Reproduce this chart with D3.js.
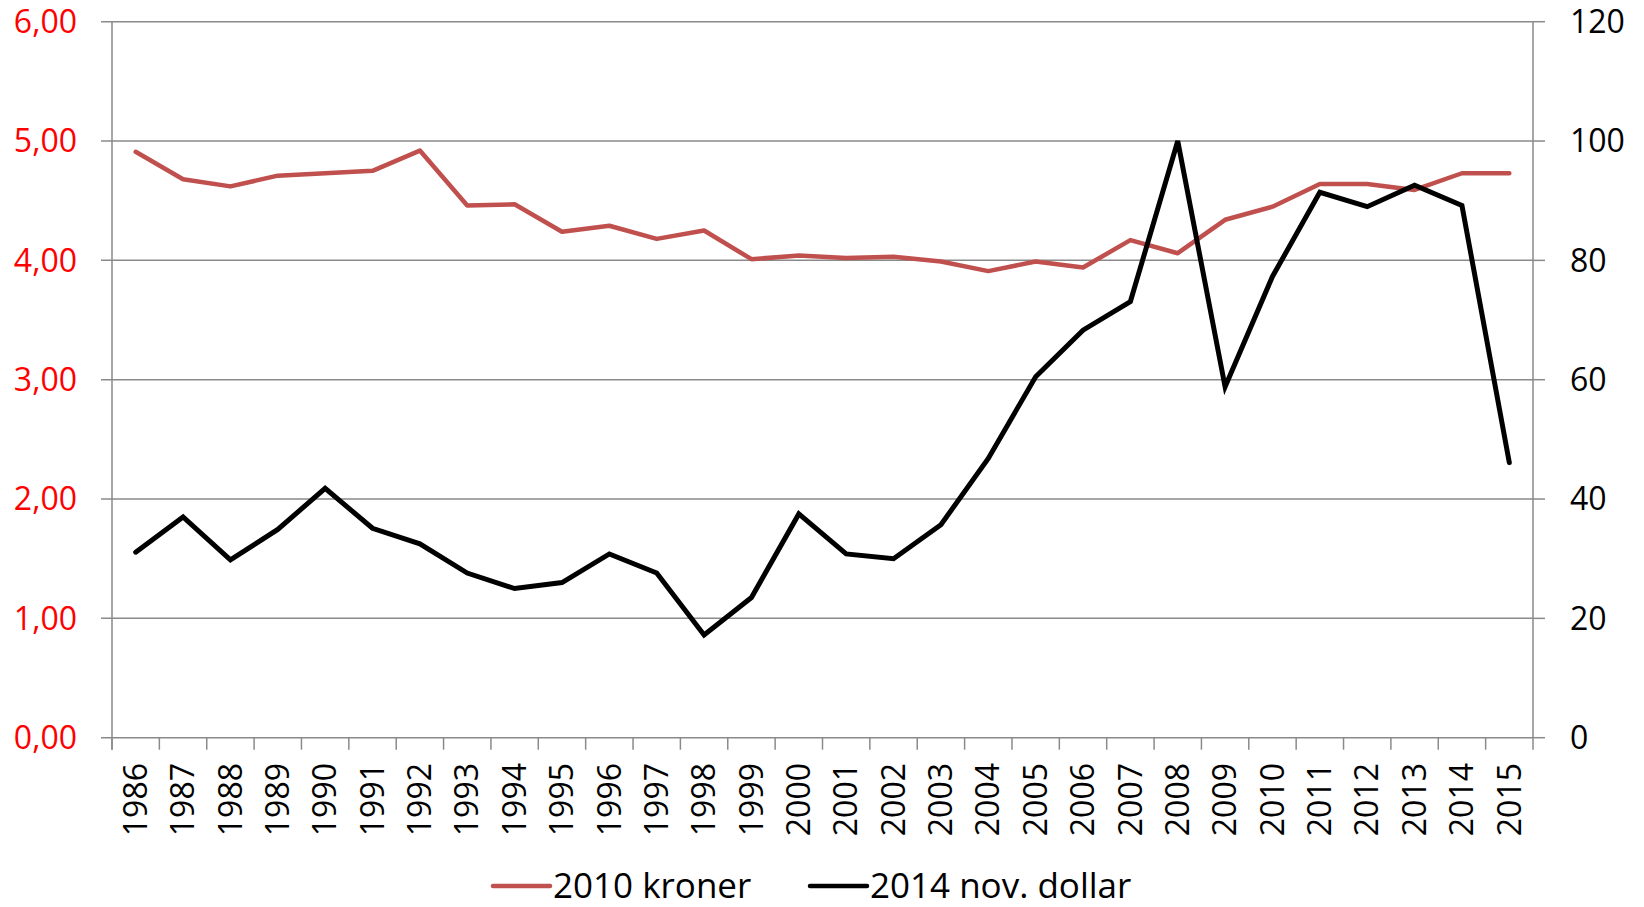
<!DOCTYPE html>
<html lang="no">
<head>
<meta charset="UTF-8">
<title>Kroner og dollar</title>
<script src="https://d3js.org/d3.v7.min.js"></script>
<style>
  body { margin: 0; background: #fff; }
  text { font-family: "Open Sans", "Liberation Sans", sans-serif; }
</style>
</head>
<body>
<script>
var years = ["1986","1987","1988","1989","1990","1991","1992","1993","1994","1995",
  "1996","1997","1998","1999","2000","2001","2002","2003","2004","2005",
  "2006","2007","2008","2009","2010","2011","2012","2013","2014","2015"];

// 2010 kroner (left axis)
var kroner = [4.91, 4.68, 4.62, 4.71, 4.73, 4.75, 4.92, 4.46, 4.47, 4.24,
  4.29, 4.18, 4.25, 4.01, 4.04, 4.02, 4.03, 3.99, 3.91, 3.99,
  3.94, 4.17, 4.06, 4.34, 4.45, 4.64, 4.64, 4.59, 4.73, 4.73];

// 2014 nov. dollar (right axis)
var dollar = [31.1, 37.0, 29.8, 34.9, 41.8, 35.1, 32.5, 27.6, 25.0, 26.0,
  30.8, 27.6, 17.2, 23.5, 37.5, 30.8, 30.0, 35.7, 46.8, 60.5,
  68.3, 73.1, 100.0, 58.8, 77.3, 91.4, 89.0, 92.6, 89.2, 46.1];

var leftTicks = [0, 1, 2, 3, 4, 5, 6];
var rightTicks = [0, 20, 40, 60, 80, 100, 120];
var seriesNames = ["2010 kroner", "2014 nov. dollar"];

var W = 1644, H = 907;
var plotL = 112, plotR = 1533, plotT = 21.7, plotB = 737.7;
var gridColor = "#8a8a8a";

var svg = d3.select("body").append("svg")
  .attr("width", W)
  .attr("height", H);

var x = d3.scaleBand().domain(years).range([plotL, plotR]).padding(0);
var y = d3.scaleLinear().domain([0, 6]).range([plotB, plotT]);
var y2 = d3.scaleLinear().domain([0, 120]).range([plotB, plotT]);

var comma = d3.formatLocale({decimal: ",", thousands: " ", grouping: [3], currency: ["", " kr"]});

// gridlines
svg.append("g")
  .selectAll("line")
  .data(leftTicks)
  .enter().append("line")
  .attr("x1", plotL - 11)
  .attr("x2", plotR)
  .attr("y1", function(d) { return y(d); })
  .attr("y2", function(d) { return y(d); })
  .attr("stroke", gridColor)
  .attr("stroke-width", 1.5);

// right ticks
svg.append("g")
  .selectAll("line")
  .data(rightTicks)
  .enter().append("line")
  .attr("x1", plotR)
  .attr("x2", plotR + 12)
  .attr("y1", function(d) { return y2(d); })
  .attr("y2", function(d) { return y2(d); })
  .attr("stroke", gridColor)
  .attr("stroke-width", 1.5);

// vertical axis lines
svg.append("line")
  .attr("x1", plotL).attr("x2", plotL)
  .attr("y1", plotT).attr("y2", plotB + 12)
  .attr("stroke", gridColor).attr("stroke-width", 1.5);
svg.append("line")
  .attr("x1", plotR).attr("x2", plotR)
  .attr("y1", plotT).attr("y2", plotB + 12)
  .attr("stroke", gridColor).attr("stroke-width", 1.5);

// x category ticks (between categories)
var bounds = years.map(function(d) { return x(d); });
svg.append("g")
  .selectAll("line")
  .data(bounds)
  .enter().append("line")
  .attr("x1", function(d) { return d; })
  .attr("x2", function(d) { return d; })
  .attr("y1", plotB)
  .attr("y2", plotB + 12)
  .attr("stroke", gridColor)
  .attr("stroke-width", 1.5);

// left labels
svg.append("g")
  .selectAll("text")
  .data(leftTicks)
  .enter().append("text")
  .attr("x", 77)
  .attr("y", function(d) { return y(d); })
  .attr("dy", "0.35em")
  .attr("text-anchor", "end")
  .attr("fill", "#ff0000")
  .style("font-size", "32px")
  .text(function(d) { return comma.format(".2f")(d); });

// right labels
svg.append("g")
  .selectAll("text")
  .data(rightTicks)
  .enter().append("text")
  .attr("x", 1570)
  .attr("y", function(d) { return y2(d); })
  .attr("dy", "0.35em")
  .attr("fill", "#000")
  .style("font-size", "32px")
  .text(function(d) { return d; });

// year labels
svg.append("g")
  .selectAll("text")
  .data(years)
  .enter().append("text")
  .attr("transform", function(d) {
    return "translate(" + (x(d) + x.bandwidth() / 2) + "," + 763 + ") rotate(-90)";
  })
  .attr("dy", "0.35em")
  .attr("text-anchor", "end")
  .attr("fill", "#000")
  .style("font-size", "32px")
  .text(function(d) { return d; });

// lines
var lineK = d3.line()
  .x(function(d, i) { return x(years[i]) + x.bandwidth() / 2; })
  .y(function(d) { return y(d); });
var lineD = d3.line()
  .x(function(d, i) { return x(years[i]) + x.bandwidth() / 2; })
  .y(function(d) { return y2(d); });

svg.append("path")
  .datum(kroner)
  .attr("d", lineK)
  .attr("fill", "none")
  .attr("stroke", "#c0504d")
  .attr("stroke-width", 4.5)
  .attr("stroke-linejoin", "round")
  .attr("stroke-linecap", "round");

svg.append("path")
  .datum(dollar)
  .attr("d", lineD)
  .attr("fill", "none")
  .attr("stroke", "#000")
  .attr("stroke-width", 5)
  .attr("stroke-linejoin", "miter")
  .attr("stroke-linecap", "round");

// legend
var legend = [
  {name: seriesNames[0], color: "#c0504d", x0: 493},
  {name: seriesNames[1], color: "#000", x0: 810}
];
var lg = svg.append("g").selectAll("g").data(legend).enter().append("g");
lg.append("line")
  .attr("x1", function(d) { return d.x0; })
  .attr("x2", function(d) { return d.x0 + 57; })
  .attr("y1", 886).attr("y2", 886)
  .attr("stroke", function(d) { return d.color; })
  .attr("stroke-width", 4.5)
  .attr("stroke-linecap", "round");
lg.append("text")
  .attr("x", function(d) { return d.x0 + 60; })
  .attr("y", 886)
  .attr("dy", "0.35em")
  .attr("fill", "#000")
  .style("font-size", "35px")
  .text(function(d) { return d.name; });
</script>
</body>
</html>
